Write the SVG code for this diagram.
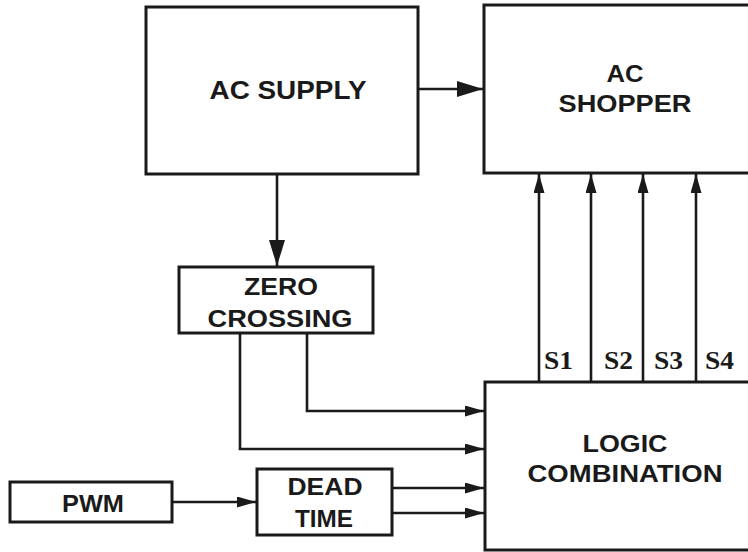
<svg xmlns="http://www.w3.org/2000/svg" width="748" height="552" viewBox="0 0 748 552">
<style>
.box{fill:#fff;stroke:#1a1a1a;stroke-width:3}
.lbl{font-family:"Liberation Sans",Arial,sans-serif;font-weight:bold;font-size:24.5px;fill:#1a1a1a;text-anchor:middle}
.sig{font-family:"Liberation Serif","Times New Roman",serif;font-weight:bold;font-size:25px;fill:#1a1a1a}
.wire{fill:none;stroke:#1a1a1a;stroke-width:2.6}
</style>
<defs>
<marker id="big" markerUnits="userSpaceOnUse" markerWidth="26" markerHeight="16" refX="26" refY="8" orient="auto"><path d="M0,0 L26,8 L0,16 z" fill="#1a1a1a"/></marker>
<marker id="small" markerUnits="userSpaceOnUse" markerWidth="19" markerHeight="11" refX="19" refY="5.5" orient="auto"><path d="M0,0 L19,5.5 L0,11 z" fill="#1a1a1a"/></marker>
</defs>
<rect width="748" height="552" fill="#fff"/>
<g id="connectors">
<path class="wire" d="M418,89 H483" marker-end="url(#big)"/>
<path class="wire" d="M277,174 V266" marker-end="url(#big)"/>
<path class="wire" d="M307,333 V411 H484" marker-end="url(#small)"/>
<path class="wire" d="M240,333 V449 H484" marker-end="url(#small)"/>
<path class="wire" d="M172,502 H256" marker-end="url(#small)"/>
<path class="wire" d="M392,488 H484" marker-end="url(#small)"/>
<path class="wire" d="M392,513 H484" marker-end="url(#small)"/>
<path class="wire" d="M539,382 V174" marker-end="url(#small)"/>
<path class="wire" d="M591,382 V174" marker-end="url(#small)"/>
<path class="wire" d="M643,382 V174" marker-end="url(#small)"/>
<path class="wire" d="M696,382 V174" marker-end="url(#small)"/>
<text class="sig" x="544" y="369" textLength="29" lengthAdjust="spacingAndGlyphs">S1</text>
<text class="sig" x="604" y="369" textLength="29" lengthAdjust="spacingAndGlyphs">S2</text>
<text class="sig" x="654" y="369" textLength="29" lengthAdjust="spacingAndGlyphs">S3</text>
<text class="sig" x="705" y="369" textLength="29" lengthAdjust="spacingAndGlyphs">S4</text>
</g>
<g id="ac-supply">
<rect class="box" x="146" y="7" width="272" height="167"/>
<text class="lbl" x="288" y="99" style="font-size:26px" textLength="157" lengthAdjust="spacingAndGlyphs">AC SUPPLY</text>
</g>
<g id="ac-shopper">
<rect class="box" x="484" y="5" width="290" height="168"/>
<text class="lbl" x="625" y="82" textLength="37" lengthAdjust="spacingAndGlyphs">AC</text>
<text class="lbl" x="625" y="112" textLength="133" lengthAdjust="spacingAndGlyphs">SHOPPER</text>
</g>
<g id="zero-crossing">
<rect class="box" x="179" y="267" width="194" height="66"/>
<text class="lbl" x="281" y="295" textLength="74" lengthAdjust="spacingAndGlyphs">ZERO</text>
<text class="lbl" x="280" y="327" textLength="145" lengthAdjust="spacingAndGlyphs">CROSSING</text>
</g>
<g id="pwm">
<rect class="box" x="10" y="482" width="162" height="40"/>
<text class="lbl" x="93" y="512" textLength="62" lengthAdjust="spacingAndGlyphs">PWM</text>
</g>
<g id="dead-time">
<rect class="box" x="257" y="469" width="135" height="66"/>
<text class="lbl" x="325" y="495" textLength="75" lengthAdjust="spacingAndGlyphs">DEAD</text>
<text class="lbl" x="324" y="527" textLength="58" lengthAdjust="spacingAndGlyphs">TIME</text>
</g>
<g id="logic-combination">
<rect class="box" x="485" y="382" width="290" height="168"/>
<text class="lbl" x="625" y="452" textLength="85" lengthAdjust="spacingAndGlyphs">LOGIC</text>
<text class="lbl" x="625" y="482" textLength="195" lengthAdjust="spacingAndGlyphs">COMBINATION</text>
</g>
</svg>
